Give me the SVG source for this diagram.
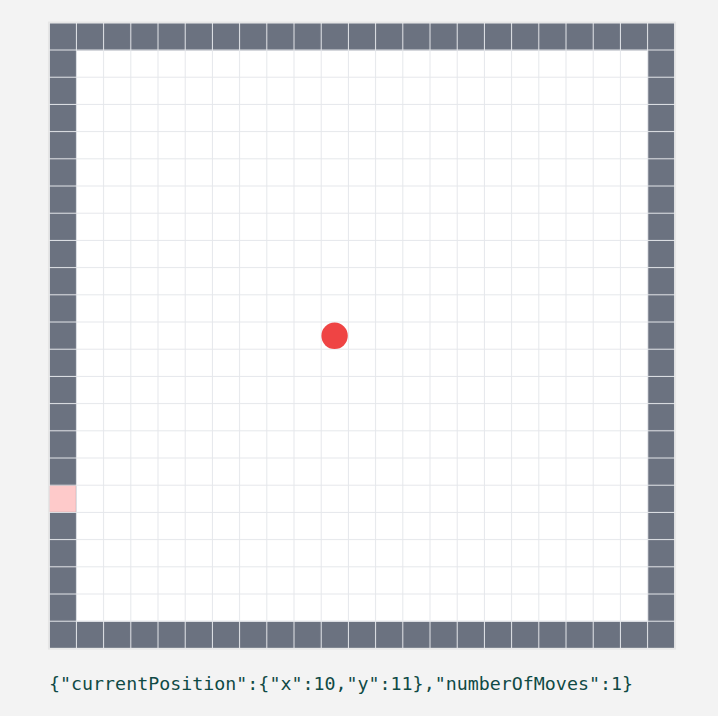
<svg xmlns="http://www.w3.org/2000/svg" width="718" height="716" viewBox="0 0 718 716">
  <defs>
    <pattern id="darkCell" patternUnits="userSpaceOnUse" x="49.7" y="23.3" width="27.2" height="27.2">
      <rect x="0" y="0" width="26.2" height="26.2" fill="#6b7280"/>
    </pattern>
    <pattern id="lightCell" patternUnits="userSpaceOnUse" x="49.7" y="23.3" width="27.2" height="27.2">
      <rect x="0" y="0" width="26.2" height="26.2" fill="#ffffff"/>
    </pattern>
    <style>
      .label { font-family: Consolas, "DejaVu Sans Mono", "Liberation Mono", monospace; font-size: 18px; fill: #0f4a45; }
    </style>
  </defs>
  <rect x="0" y="0" width="718" height="716" fill="#f3f3f3"/>
  <g id="board">
    <rect x="48.7" y="22.3" width="626.6" height="626.6" fill="none" stroke="#e6e6e6" stroke-width="1.5"/>
    <rect x="49.7" y="23.3" width="624.6" height="624.6" fill="#e5e7eb"/>
    <rect x="49.7" y="23.3" width="624.6" height="624.6" fill="url(#darkCell)"/>
    <rect x="76.9" y="50.5" width="571.2" height="571.2" fill="#e5e7eb"/>
    <rect x="76.9" y="50.5" width="571.2" height="570.2" fill="url(#lightCell)"/>
    <rect id="exit" x="49.7" y="485.7" width="26.2" height="26.2" fill="#fecaca"/>
  </g>
  <g id="player">
    <circle cx="334.6" cy="335.8" r="13.2" fill="#ef4444"/>
  </g>
  <text class="label" x="49" y="690" textLength="584" lengthAdjust="spacingAndGlyphs">{"currentPosition":{"x":10,"y":11},"numberOfMoves":1}</text>
</svg>
